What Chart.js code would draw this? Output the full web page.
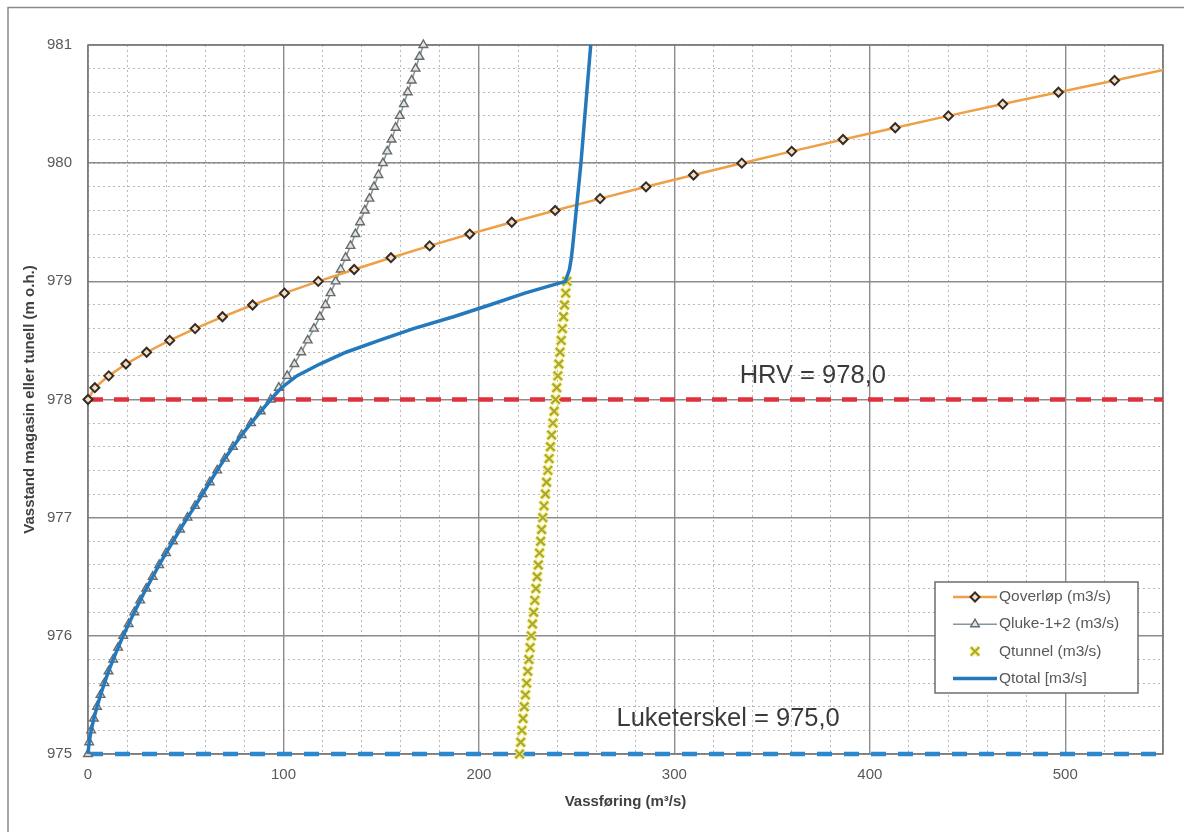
<!DOCTYPE html>
<html>
<head>
<meta charset="utf-8">
<script src="https://cdn.jsdelivr.net/npm/chart.js@4/dist/chart.umd.min.js"></script>
<style>
  html, body { margin: 0; padding: 0; background: #ffffff; }
  #wrap { width: 1184px; height: 832px; }
</style>
</head>
<body>
<div id="wrap"><canvas id="chart" width="1184" height="832"></canvas></div>
<script>
// Reservoir / tunnel water level (m o.h.), every 0.1 m
const levels = [
  975.0, 975.1, 975.2, 975.3, 975.4, 975.5, 975.6, 975.7, 975.8, 975.9,
  976.0, 976.1, 976.2, 976.3, 976.4, 976.5, 976.6, 976.7, 976.8, 976.9,
  977.0, 977.1, 977.2, 977.3, 977.4, 977.5, 977.6, 977.7, 977.8, 977.9,
  978.0, 978.1, 978.2, 978.3, 978.4, 978.5, 978.6, 978.7, 978.8, 978.9,
  979.0, 979.1, 979.2, 979.3, 979.4, 979.5, 979.6, 979.7, 979.8, 979.9,
  980.0, 980.1, 980.2, 980.3, 980.4, 980.5, 980.6, 980.7, 980.8, 980.9,
  981.0
];

// Spillway discharge, from 978.0 to 980.8
const qOverlop = [
  0, 3.5, 10.6, 19.4, 30.0, 41.8, 54.8, 68.8, 84.2, 100.5,
  117.8, 136.2, 155.0, 174.8, 195.3, 216.8, 239.0, 262.0, 285.5, 309.8,
  334.5, 360.0, 386.3, 413.0, 440.2, 468.0, 496.5, 525.2, 553.0
];

// Gates 1+2, from 975.0 to 981.0
const qLuke = [
  0, 0.6, 1.6, 3.0, 4.6, 6.4, 8.4, 10.5, 12.9, 15.4,
  18.0, 20.8, 23.7, 26.7, 29.8, 33.1, 36.4, 39.9, 43.5, 47.1,
  50.9, 54.8, 58.6, 62.3, 66.1, 70.0, 74.2, 78.6, 83.4, 88.4,
  93.5, 97.6, 101.9, 105.6, 109.1, 112.4, 115.6, 118.6, 121.5, 124.1,
  126.7, 129.3, 131.8, 134.3, 136.8, 139.2, 141.6, 144.0, 146.3, 148.6,
  150.9, 153.1, 155.3, 157.4, 159.5, 161.6, 163.6, 165.6, 167.6, 169.6,
  171.6
];

// Tunnel capacity, from 975.0 to 979.0
const qTunnel = [
  220.8, 221.4, 222.0, 222.6, 223.2, 223.8, 224.4, 225.0, 225.6, 226.2,
  226.8, 227.4, 228.0, 228.6, 229.2, 229.8, 230.4, 231.0, 231.6, 232.1,
  232.7, 233.3, 234.0, 234.6, 235.3, 235.9, 236.6, 237.2, 237.9, 238.5,
  239.2, 239.8, 240.4, 240.9, 241.5, 242.1, 242.7, 243.3, 243.8, 244.4,
  245.0
];

// Total discharge, from 975.0 to 981.0
const qTotal = [
  0, 0.6, 1.6, 3.0, 4.6, 6.4, 8.4, 10.5, 12.9, 15.4,
  18.0, 20.8, 23.7, 26.7, 29.8, 33.1, 36.4, 39.9, 43.5, 47.1,
  50.9, 54.8, 58.6, 62.3, 66.1, 70.0, 74.2, 78.6, 83.4, 88.4,
  93.5, 99.0, 106.8, 118.6, 132.0, 149.0, 166.5, 187.0, 205.5, 223.5,
  244.2, 246.3, 247.3, 248.0, 248.6, 249.2, 249.8, 250.4, 251.0, 251.6,
  252.2, 252.7, 253.2, 253.7, 254.2, 254.7, 255.2, 255.7, 256.2, 256.7,
  257.2
];

const seriesNames = ['Qoverløp (m3/s)', 'Qluke-1+2 (m3/s)', 'Qtunnel (m3/s)', 'Qtotal [m3/s]'];

// Reference levels and axis ranges
const hrvLevel = 978.0;
const gateSillLevel = 975.0;
const xRange = [0, 550];
const yRange = [975, 981];
const xTickStep = 100;
const yTickStep = 1;

const refLabels = [
  { text: 'HRV = 978,0', x: 333.4, y: 978.2 },
  { text: 'Luketerskel = 975,0', x: 270.4, y: 975.3 }
];

const pts = (xs, ys) => xs.map((x, i) => ({ x: x, y: ys[i] }));

const TICK_FONT = { family: "'Liberation Sans', Arial, sans-serif", size: 15 };
const TITLE_FONT = { family: "'Liberation Sans', Arial, sans-serif", size: 15, weight: 'bold' };

// markers may spill past the plot edges, except past the right-hand side
const OPEN_CLIP = { left: 12, top: 12, right: 0, bottom: 12 };

const datasets = [
  {
    label: seriesNames[3], legendIndex: 3,
    data: pts(qTotal, levels),
    borderColor: '#2479bd', borderWidth: 3.5, pointRadius: 0,
    showLine: true, fill: false, order: 0, clip: OPEN_CLIP
  },
  {
    label: seriesNames[0], legendIndex: 0,
    data: pts(qOverlop, levels.slice(30, 30 + qOverlop.length)),
    borderColor: '#eea046', borderWidth: 2.5,
    pointStyle: 'rectRot', pointRadius: 4.5,
    pointBorderColor: '#3b2a20', pointBorderWidth: 2, pointBackgroundColor: '#efe2cc',
    showLine: true, fill: false, order: 1, clip: OPEN_CLIP
  },
  {
    label: seriesNames[1], legendIndex: 1,
    data: pts(qLuke, levels),
    borderColor: '#7f9aa6', borderWidth: 1.6,
    pointStyle: 'triangle', pointRadius: 5,
    pointBorderColor: '#6a6a6a', pointBorderWidth: 1.4, pointBackgroundColor: '#e2e2e2',
    showLine: true, fill: false, order: 2, clip: OPEN_CLIP
  },
  {
    label: seriesNames[2], legendIndex: 2,
    data: pts(qTunnel, levels.slice(0, qTunnel.length)),
    showLine: false,
    pointStyle: 'crossRot', pointRadius: 6,
    pointBorderColor: '#aaa52c', pointBorderWidth: 2, pointBackgroundColor: '#aaa52c',
    order: 3, clip: OPEN_CLIP
  },
  {
    // soft yellow underlay for the tunnel crosses
    label: 'tunnel-glow',
    data: pts(qTunnel, levels.slice(0, qTunnel.length)),
    showLine: false,
    pointStyle: 'crossRot', pointRadius: 6.3,
    pointBorderColor: '#f3ee84', pointBorderWidth: 4.5, pointBackgroundColor: '#f3ee84',
    order: 4, clip: OPEN_CLIP
  },
  {
    label: 'HRV',
    data: [{ x: xRange[0], y: hrvLevel }, { x: xRange[1], y: hrvLevel }],
    borderColor: '#e0323c', borderWidth: 4.5, borderDash: [15, 11],
    pointRadius: 0, showLine: true, fill: false, order: 6, clip: false
  },
  {
    label: 'Luketerskel',
    data: [{ x: xRange[0], y: gateSillLevel }, { x: xRange[1], y: gateSillLevel }],
    borderColor: '#2b88cf', borderWidth: 4.5, borderDash: [15, 12],
    pointRadius: 0, showLine: true, fill: false, order: 6, clip: false
  }
];

// Page frame and plot border
const framePlugin = {
  id: 'frame',
  beforeDraw(chart) {
    const ctx = chart.ctx;
    ctx.save();
    ctx.fillStyle = '#ffffff';
    ctx.fillRect(0, 0, chart.width, chart.height);
    ctx.strokeStyle = '#8a8a8a';
    ctx.lineWidth = 1.5;
    ctx.beginPath();
    ctx.moveTo(8, chart.height);
    ctx.lineTo(8, 7.5);
    ctx.lineTo(chart.width, 7.5);
    ctx.stroke();
    ctx.restore();
  },
  beforeDatasetsDraw(chart) {
    const a = chart.chartArea, ctx = chart.ctx;
    ctx.save();
    ctx.strokeStyle = '#7a7a7a';
    ctx.lineWidth = 1.5;
    ctx.strokeRect(a.left, a.top, a.right - a.left, a.bottom - a.top);
    ctx.restore();
  }
};

// Level annotations, placed through the scales
const refLabelPlugin = {
  id: 'refLabels',
  afterDatasetsDraw(chart) {
    const ctx = chart.ctx, xs = chart.scales.x, ys = chart.scales.y;
    ctx.save();
    ctx.font = "25.5px 'Liberation Sans', Arial, sans-serif";
    ctx.fillStyle = '#3a3a3a';
    ctx.textAlign = 'left';
    ctx.textBaseline = 'middle';
    refLabels.forEach(l => ctx.fillText(l.text, xs.getPixelForValue(l.x), ys.getPixelForValue(l.y)));
    ctx.restore();
  }
};

// Boxed legend inside the lower right of the plot
const boxLegendPlugin = {
  id: 'boxLegend',
  afterDatasetsDraw(chart) {
    const ctx = chart.ctx, a = chart.chartArea;
    const items = chart.data.datasets.filter(d => d.legendIndex !== undefined)
      .sort((p, q) => p.legendIndex - q.legendIndex);
    const bx = a.right - 228, by = a.bottom - 172, bw = 203, bh = 111;
    ctx.save();
    ctx.fillStyle = '#ffffff';
    ctx.fillRect(bx, by, bw, bh);
    ctx.strokeStyle = '#6e6e6e';
    ctx.lineWidth = 1.5;
    ctx.strokeRect(bx, by, bw, bh);
    ctx.font = "15.5px 'Liberation Sans', Arial, sans-serif";
    ctx.textBaseline = 'middle';
    ctx.textAlign = 'left';
    items.forEach((d, i) => {
      const y = by + 15 + i * 27.2;
      const x0 = bx + 18, x1 = bx + 62, xm = (x0 + x1) / 2;
      if (d.showLine !== false) {
        ctx.strokeStyle = d.borderColor;
        ctx.lineWidth = d.borderWidth;
        ctx.setLineDash([]);
        ctx.beginPath();
        ctx.moveTo(x0, y);
        ctx.lineTo(x1, y);
        ctx.stroke();
      }
      if (d.pointRadius > 0) {
        if (d.label === seriesNames[2]) {
          ctx.strokeStyle = '#f3ee84';
          ctx.lineWidth = 4.5;
          Chart.helpers.drawPoint(ctx, { pointStyle: d.pointStyle, radius: d.pointRadius, rotation: 0, borderWidth: 4.5 }, xm, y);
        }
        ctx.strokeStyle = d.pointBorderColor;
        ctx.fillStyle = d.pointBackgroundColor;
        ctx.lineWidth = d.pointBorderWidth;
        Chart.helpers.drawPoint(ctx, { pointStyle: d.pointStyle, radius: d.pointRadius, rotation: 0, borderWidth: d.pointBorderWidth }, xm, y);
      }
      ctx.fillStyle = '#595959';
      ctx.fillText(d.label, x1 + 2, y);
    });
    ctx.restore();
  }
};

new Chart(document.getElementById('chart'), {
  type: 'scatter',
  data: { datasets: datasets },
  options: {
    responsive: false,
    animation: false,
    devicePixelRatio: 1,
    layout: { padding: { left: 0, top: 45, right: 21, bottom: 0 } },
    plugins: { legend: { display: false }, tooltip: { enabled: false } },
    elements: { line: { tension: 0 } },
    scales: {
      x: {
        type: 'linear', position: 'bottom', min: xRange[0], max: xRange[1],
        ticks: {
          stepSize: xTickStep, autoSkip: false, maxRotation: 0, padding: 12,
          font: TICK_FONT, color: '#595959',
          callback: v => (v % xTickStep === 0 ? String(v) : '')
        },
        grid: { color: '#8c8c8c', lineWidth: 1.4, drawTicks: false, z: -1 },
        border: { display: false },
        title: { display: true, text: 'Vassføring (m³/s)', font: TITLE_FONT, color: '#404040', padding: { top: 0, bottom: 21 } },
        afterFit: s => { s.height = 78; }
      },
      xMinor: {
        type: 'linear', position: 'bottom', min: xRange[0], max: xRange[1],
        ticks: { display: false, stepSize: 20 },
        grid: { color: '#b9b9b9', lineWidth: 1, drawTicks: false, z: -2 },
        border: { display: false, dash: [2, 3] },
        afterFit: s => { s.height = 0; }
      },
      y: {
        type: 'linear', position: 'left', min: yRange[0], max: yRange[1],
        ticks: {
          stepSize: yTickStep, padding: 16, font: TICK_FONT, color: '#595959',
          callback: v => (Number.isInteger(v) ? String(v) : '')
        },
        grid: { color: '#8c8c8c', lineWidth: 1.4, drawTicks: false, z: -1 },
        border: { display: false },
        title: { display: true, text: 'Vasstand magasin eller tunell (m o.h.)', font: TITLE_FONT, color: '#404040', padding: { top: 21, bottom: 0 } },
        afterFit: s => { s.width = 88; }
      },
      yMinor: {
        type: 'linear', position: 'left', min: yRange[0], max: yRange[1],
        ticks: { display: false, stepSize: 0.2 },
        grid: { color: '#b9b9b9', lineWidth: 1, drawTicks: false, z: -2 },
        border: { display: false, dash: [2, 3] },
        afterFit: s => { s.width = 0; }
      }
    }
  },
  plugins: [framePlugin, refLabelPlugin, boxLegendPlugin]
});
</script>
</body>
</html>
